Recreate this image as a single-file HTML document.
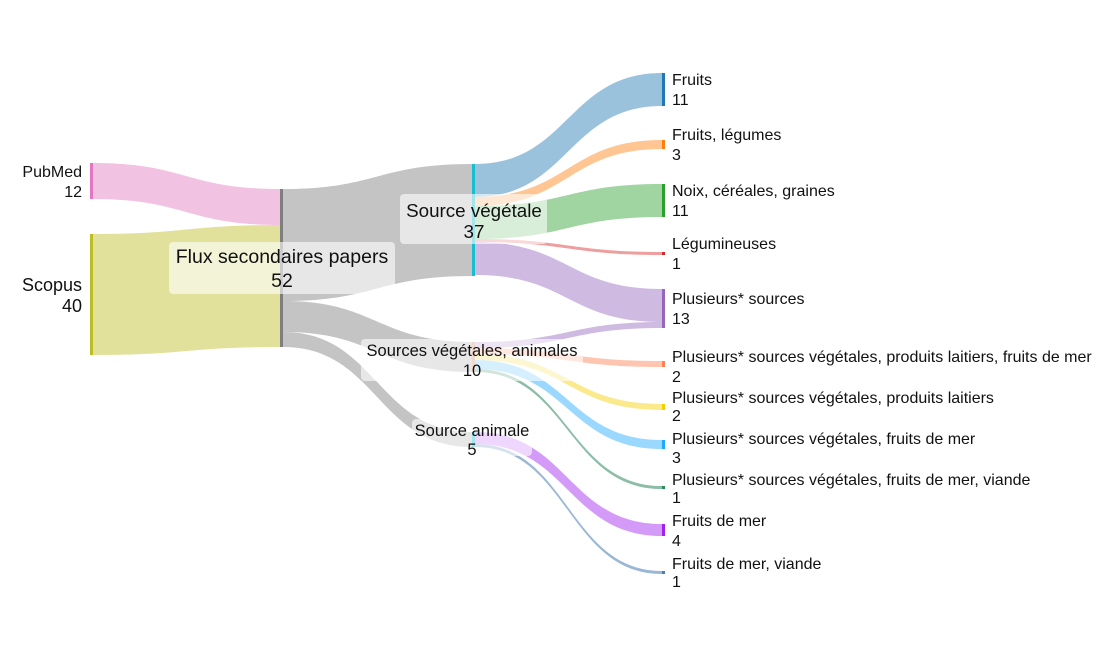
<!DOCTYPE html>
<html><head><meta charset="utf-8"><style>
body{margin:0;background:#fff;}
svg{display:block;font-family:"Liberation Sans",Arial,sans-serif;}
</style></head><body>
<svg width="1116" height="649" viewBox="0 0 1116 649" xmlns="http://www.w3.org/2000/svg">
<path d="M93 163 C186 163 186 189 280 189 L280 225 C186 225 186 199 93 199Z" fill="#e377c2" fill-opacity="0.45"/>
<path d="M93 234 C186 234 186 225 280 225 L280 347 C186 347 186 355 93 355Z" fill="#bcbd22" fill-opacity="0.45"/>
<g fill="#999" fill-opacity="0.58">
<path d="M283 189 C377 189 377 164 472 164 L472 276 C377 276 377 301 283 301Z"/>
<path d="M283 301 C377 301 377 342 472 342 L472 372 C377 372 377 332 283 332Z"/>
<path d="M283 332 C377 332 377 432 472 432 L472 447 C377 447 377 347 283 347Z"/>
</g>
<g fill-opacity="0.45">
<path d="M475 164 C568 164 568 73 662 73 L662 106 C568 106 568 197 475 197Z" fill="#1f77b4"/>
<path d="M475 197 C568 197 568 140 662 140 L662 149 C568 149 568 206 475 206Z" fill="#ff7f0e"/>
<path d="M475 206 C568 206 568 184 662 184 L662 217 C568 217 568 239 475 239Z" fill="#2ca02c"/>
<path d="M475 239 C568 239 568 252 662 252 L662 255 C568 255 568 242 475 242Z" fill="#d62728"/>
<path d="M475 242 C568 242 568 289 662 289 L662 322 C568 322 568 275 475 275Z" fill="#9467bd"/>
<path d="M475 342 C568 342 568 322 662 322 L662 328 C568 328 568 348 475 348Z" fill="#9467bd"/>
<path d="M475 348 C568 348 568 361 662 361 L662 367 C568 367 568 354 475 354Z" fill="#ff7f50"/>
<path d="M475 354 C568 354 568 404 662 404 L662 410 C568 410 568 360 475 360Z" fill="#f5d000"/>
<path d="M475 360 C568 360 568 440 662 440 L662 449 C568 449 568 369 475 369Z" fill="#1fa8ff"/>
<path d="M475 369 C568 369 568 486 662 486 L662 489 C568 489 568 372 475 372Z" fill="#006d3c"/>
<path d="M475 432 C568 432 568 524 662 524 L662 536 C568 536 568 444 475 444Z" fill="#a020f0"/>
<path d="M475 444 C568 444 568 571 662 571 L662 574 C568 574 568 447 475 447Z" fill="#1f5f9f"/>
</g>
<rect x="90" y="163" width="3" height="36" fill="#e377c2"/>
<rect x="90" y="234" width="3" height="121" fill="#bcbd22"/>
<rect x="280" y="189" width="3" height="158" fill="#7f7f7f"/>
<rect x="472" y="164" width="3" height="112" fill="#17becf"/>
<rect x="472" y="342" width="3" height="30" fill="#e0a080"/>
<rect x="472" y="432" width="3" height="15" fill="#17becf"/>
<rect x="662" y="73" width="3" height="33" fill="#1f77b4"/>
<rect x="662" y="140" width="3" height="9" fill="#ff7f0e"/>
<rect x="662" y="184" width="3" height="33" fill="#2ca02c"/>
<rect x="662" y="252" width="3" height="3" fill="#d62728"/>
<rect x="662" y="289" width="3" height="39" fill="#9467bd"/>
<rect x="662" y="361" width="3" height="6" fill="#ff7f50"/>
<rect x="662" y="404" width="3" height="6" fill="#f5d000"/>
<rect x="662" y="440" width="3" height="9" fill="#1fa8ff"/>
<rect x="662" y="486" width="3" height="3" fill="#2e8b57"/>
<rect x="662" y="524" width="3" height="12" fill="#a020f0"/>
<rect x="662" y="571" width="3" height="3" fill="#4682b4"/>
<g fill="#fff" fill-opacity="0.6">
<rect x="169" y="242" width="226" height="52" rx="4"/>
<rect x="400" y="194" width="147" height="50" rx="4"/>
<rect x="361" y="339" width="222" height="42" rx="4"/>
<rect x="412" y="419" width="120" height="37" rx="4"/>
</g>
<g fill="#111" font-size="16">
<text x="82" y="177" text-anchor="end">PubMed</text>
<text x="82" y="197" text-anchor="end">12</text>
<text x="82" y="291" text-anchor="end" font-size="18">Scopus</text>
<text x="82" y="312" text-anchor="end" font-size="18">40</text>
<text x="282" y="263" text-anchor="middle" font-size="19.5">Flux secondaires papers</text>
<text x="282" y="287" text-anchor="middle" font-size="19.5">52</text>
<text x="474" y="217" text-anchor="middle" font-size="18.8">Source végétale</text>
<text x="474" y="238" text-anchor="middle" font-size="18.8">37</text>
<text x="472" y="356" text-anchor="middle" font-size="16.5">Sources végétales, animales</text>
<text x="472" y="376" text-anchor="middle" font-size="16.5">10</text>
<text x="472" y="436" text-anchor="middle" font-size="16.5">Source animale</text>
<text x="472" y="455" text-anchor="middle" font-size="16.5">5</text>
<text x="672" y="85">Fruits</text><text x="672" y="105">11</text>
<text x="672" y="140">Fruits, légumes</text><text x="672" y="160">3</text>
<text x="672" y="196">Noix, céréales, graines</text><text x="672" y="216">11</text>
<text x="672" y="249">Légumineuses</text><text x="672" y="269">1</text>
<text x="672" y="304">Plusieurs* sources</text><text x="672" y="324">13</text>
<text x="672" y="362">Plusieurs* sources végétales, produits laitiers, fruits de mer</text><text x="672" y="382">2</text>
<text x="672" y="403">Plusieurs* sources végétales, produits laitiers</text><text x="672" y="421">2</text>
<text x="672" y="444">Plusieurs* sources végétales, fruits de mer</text><text x="672" y="463">3</text>
<text x="672" y="485">Plusieurs* sources végétales, fruits de mer, viande</text><text x="672" y="503">1</text>
<text x="672" y="526">Fruits de mer</text><text x="672" y="546">4</text>
<text x="672" y="569">Fruits de mer, viande</text><text x="672" y="587">1</text>
</g>
</svg>
</body></html>
